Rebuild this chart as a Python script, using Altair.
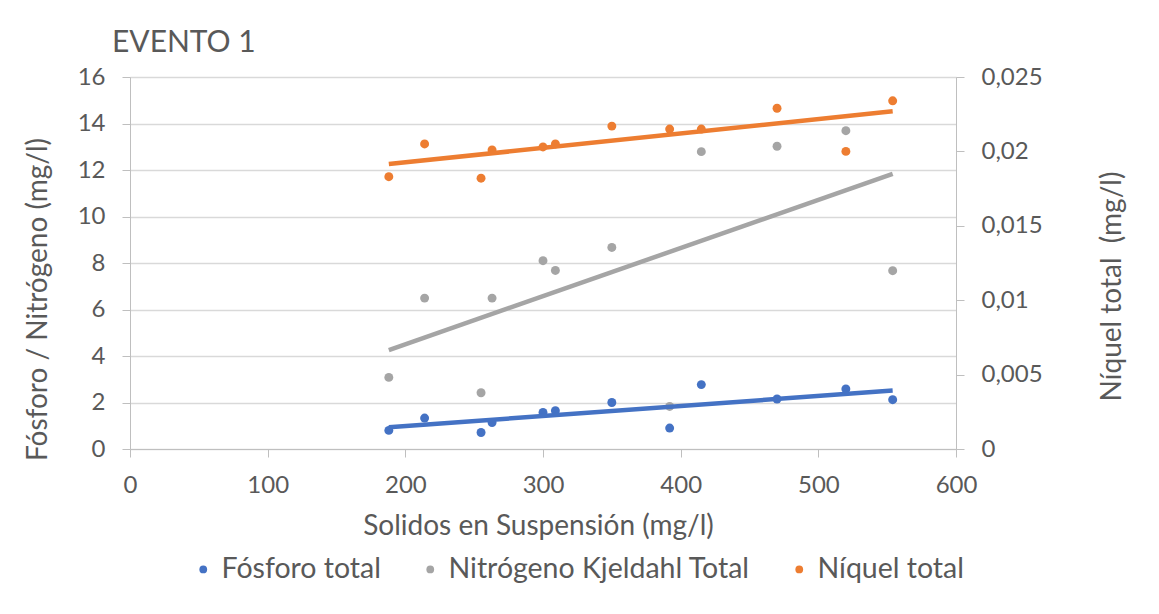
import altair as alt
import pandas as pd

# ---- data ----
solidos = [188, 214, 255, 263, 300, 309, 350, 392, 415, 470, 520, 554]
fosforo = [0.80, 1.33, 0.71, 1.14, 1.57, 1.65, 2.00, 0.90, 2.77, 2.15, 2.58, 2.12]
nitrogeno = [3.08, 6.49, 2.42, 6.49, 8.10, 7.68, 8.67, 1.83, 12.79, 13.02, 13.69, 7.67]
niquel = [0.0183, 0.0205, 0.0182, 0.0201, 0.0203, 0.0205, 0.0217, 0.0215, 0.0215, 0.0229, 0.0200, 0.0234]

series = ["Fósforo total", "Nitrógeno Kjeldahl Total", "Níquel total"]
colors = ["#4472C4", "#A5A5A5", "#ED7D31"]
x_ticks = [0, 100, 200, 300, 400, 500, 600]
y_left_ticks = [0, 2, 4, 6, 8, 10, 12, 14, 16]
y_right_ticks = [0, 0.005, 0.01, 0.015, 0.02, 0.025]

left_df = pd.DataFrame({
    "x": solidos + solidos,
    "y": fosforo + nitrogeno,
    "serie": [series[0]] * len(solidos) + [series[1]] * len(solidos),
})
right_df = pd.DataFrame({"x": solidos, "y": niquel, "serie": [series[2]] * len(solidos)})

TXT = "#595959"
AX = "#BFBFBF"
FONT = "Lato"

color_scale = alt.Scale(domain=series, range=colors)
legend = alt.Legend(
    orient="none", legendX=59, legendY=478, direction="horizontal", title=None,
    labelFontSize=28.5, labelColor=TXT, labelFont=FONT, symbolType="circle",
    symbolSize=60, symbolStrokeWidth=0, labelOffset=4, columnPadding=35, padding=0,
    labelLimit=500,
)

x_enc = alt.X(
    "x:Q",
    scale=alt.Scale(domain=[0, 600], nice=False),
    axis=alt.Axis(
        values=x_ticks, grid=False, domainColor=AX, tickColor=AX, tickSize=8,
        labelFontSize=24, labelColor=TXT, labelPadding=16, labelFont=FONT,
        labelFlush=False,
        title="Solidos en Suspensión (mg/l)", titleFontSize=28, titleColor=TXT,
        titleFontWeight="normal", titleFont=FONT, titleX=408, titleY=77,
        titleBaseline="middle", titleAlign="center",
    ),
)

y_left = alt.Y(
    "y:Q",
    scale=alt.Scale(domain=[0, 16], nice=False),
    axis=alt.Axis(
        values=y_left_ticks, grid=True, gridColor="#D9D9D9", gridWidth=1.3,
        domainColor=AX, tickColor=AX, tickSize=8, labelFontSize=24, labelColor=TXT,
        labelPadding=17, labelFont=FONT, labelFlush=False,
        title="Fósforo / Nitrógeno (mg/l)", titleFontSize=28, titleColor=TXT,
        titleFontWeight="normal", titleFont=FONT, titleAngle=270,
        titleX=-92, titleY=222, titleAlign="center", titleBaseline="middle",
    ),
)

y_right = alt.Y(
    "y:Q",
    scale=alt.Scale(domain=[0, 0.025], nice=False),
    axis=alt.Axis(
        orient="right", values=y_right_ticks, grid=False,
        labelExpr="replace(format(datum.value, '.3~f'), '.', ',')",
        domainColor=AX, tickColor=AX, tickSize=8, labelFontSize=24, labelColor=TXT,
        labelPadding=17, labelFont=FONT, labelFlush=False,
        title="Níquel total\u00a0 (mg/l)", titleFontSize=28, titleColor=TXT,
        titleFontWeight="normal", titleFont=FONT, titleAngle=270,
        titleX=156, titleY=209, titleAlign="center", titleBaseline="middle",
    ),
)

left_base = alt.Chart(left_df)
left_pts = left_base.mark_circle(size=80, opacity=1).encode(
    x=x_enc, y=y_left, color=alt.Color("serie:N", scale=color_scale, legend=legend)
)
left_lines = left_base.transform_regression("x", "y", groupby=["serie"]).mark_line(
    strokeWidth=4.5
).encode(x=x_enc, y=y_left, color=alt.Color("serie:N", scale=color_scale, legend=None))

right_base = alt.Chart(right_df)
right_pts = right_base.mark_circle(size=80, opacity=1).encode(
    x=x_enc, y=y_right, color=alt.Color("serie:N", scale=color_scale, legend=legend)
)
right_lines = right_base.transform_regression("x", "y", groupby=["serie"]).mark_line(
    strokeWidth=4.5
).encode(x=x_enc, y=y_right, color=alt.Color("serie:N", scale=color_scale, legend=None))

left_layer = alt.layer(left_pts, left_lines)
right_layer = alt.layer(right_pts, right_lines)

chart = (
    alt.layer(left_layer, right_layer)
    .resolve_scale(y="independent")
    .properties(
        width=826,
        height=372,
        autosize=alt.AutoSizeParams(type="none"),
        padding={"left": 122, "top": 69, "right": 187, "bottom": 145},
        title=alt.TitleParams(
            "EVENTO 1", anchor="start", dx=88, dy=41, fontSize=30, font=FONT,
            color=TXT, fontWeight="normal", offset=24, baseline="alphabetic",
        ),
        background="white",
    )
    .configure_view(stroke=None)
    .configure(font=FONT)
)

chart.save("out.html", embed_options={"renderer": "svg", "actions": False})
